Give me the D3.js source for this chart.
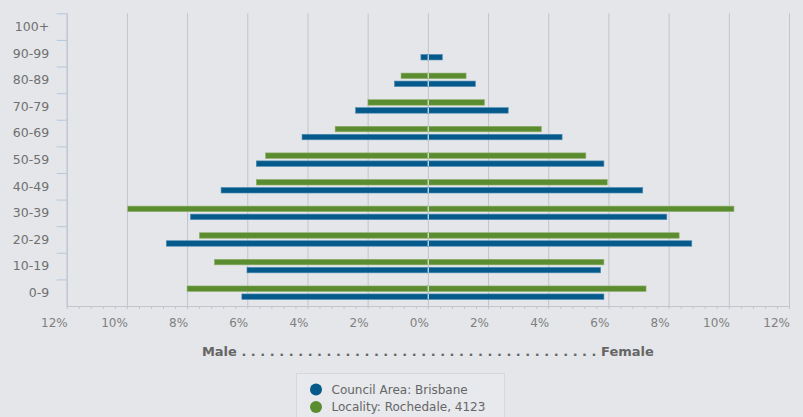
<!DOCTYPE html>
<html>
<head>
<meta charset="utf-8">
<script src="https://cdn.jsdelivr.net/npm/d3@7"></script>
<style>
  body { margin: 0; background: #e4e6ea; }
  svg { display: block; font-family: "DejaVu Sans", sans-serif; }
</style>
</head>
<body>
<div id="chart"></div>
<script>
// Age groups, top to bottom
const ageGroups = ["100+", "90-99", "80-89", "70-79", "60-69", "50-59", "40-49", "30-39", "20-29", "10-19", "0-9"];

// Share of population (%)
const councilMale     = [0, 0.23, 1.11, 2.40, 4.18, 5.70, 6.87, 7.89, 8.69, 6.01, 6.18];
const councilFemale   = [0, 0.48, 1.58, 2.67, 4.46, 5.85, 7.14, 7.94, 8.77, 5.74, 5.85];
const localityMale    = [0, 0, 0.89, 1.99, 3.08, 5.39, 5.70, 9.97, 7.59, 7.09, 8.00];
const localityFemale  = [0, 0, 1.27, 1.88, 3.77, 5.25, 5.96, 10.17, 8.35, 5.85, 7.25];

const seriesNames = ["Council Area: Brisbane", "Locality: Rochedale, 4123"];
const xTicks = [-12, -10, -8, -6, -4, -2, 0, 2, 4, 6, 8, 10, 12];

const width = 803, height = 417;
const margin = {top: 13.3, right: 14, bottom: 111, left: 66.7};
const innerW = width - margin.left - margin.right;
const innerH = height - margin.top - margin.bottom;

const svg = d3.select("#chart")
  .append("svg")
  .attr("width", width)
  .attr("height", height);

svg.append("rect").attr("width", width).attr("height", height).attr("fill", "#e4e6ea");

const g = svg.append("g").attr("transform", `translate(${margin.left},${margin.top})`);

// Scales
const x = d3.scaleLinear().domain([-12, 12]).range([0, innerW]);
const y = d3.scaleBand().domain(ageGroups).range([0, innerH]).padding(0);
const sub = d3.scaleBand()
  .domain(["locality", "council"])
  .range([y.bandwidth() / 2 - 6.75, y.bandwidth() / 2 + 6.75])
  .paddingInner(0.3125)
  .paddingOuter(0);

const colors = {council: "#055a8c", locality: "#5b8c2f"};

// Vertical gridlines
g.append("g").selectAll("line")
  .data(xTicks)
  .join("line")
  .attr("x1", d => x(d) + 0.5)
  .attr("x2", d => x(d) + 0.5)
  .attr("y1", 0)
  .attr("y2", innerH + 3)
  .attr("stroke", "#c3c5ca")
  .attr("stroke-width", 1);

// Minor ticks on the bottom axis
const minor = d3.range(-12, 12.001, 0.4).filter(v => Math.abs(v / 2 - Math.round(v / 2)) > 0.01);
g.append("g").selectAll("line")
  .data(minor)
  .join("line")
  .attr("x1", d => x(d) + 0.5)
  .attr("x2", d => x(d) + 0.5)
  .attr("y1", innerH)
  .attr("y2", innerH + 3)
  .attr("stroke", "#c3c5ca");

// Bottom axis line
g.append("line")
  .attr("x1", 0).attr("x2", innerW + 1)
  .attr("y1", innerH + 0.5).attr("y2", innerH + 0.5)
  .attr("stroke", "#c3c5ca");

// Left axis line and category ticks
g.append("line")
  .attr("x1", 0.5).attr("x2", 0.5)
  .attr("y1", 0).attr("y2", innerH)
  .attr("stroke", "#bcc6d2");
g.append("g").selectAll("line")
  .data(ageGroups)
  .join("line")
  .attr("x1", -10).attr("x2", 0)
  .attr("y1", d => y(d) + 0.5)
  .attr("y2", d => y(d) + 0.5)
  .attr("stroke", "#b4c8dc");

// Build bar data
const bars = [];
ageGroups.forEach((age, i) => {
  bars.push({age, key: "council", side: -1, v: councilMale[i]});
  bars.push({age, key: "council", side: 1, v: councilFemale[i]});
  bars.push({age, key: "locality", side: -1, v: localityMale[i]});
  bars.push({age, key: "locality", side: 1, v: localityFemale[i]});
});

g.append("g").selectAll("rect")
  .data(bars.filter(d => d.v > 0))
  .join("rect")
  .attr("x", d => d.side < 0 ? x(-d.v) : x(0))
  .attr("width", d => Math.abs(x(d.v) - x(0)))
  .attr("y", d => y(d.age) + sub(d.key))
  .attr("height", sub.bandwidth())
  .attr("fill", d => colors[d.key])
  .attr("stroke", d => d.key === "council" ? "#4f8cb3" : "#8db06a")
  .attr("stroke-width", 0.6);

// light centre line drawn over the bars
g.append("g").selectAll("rect")
  .data(bars.filter(d => d.side < 0 && d.v > 0))
  .join("rect")
  .attr("x", x(0))
  .attr("width", 1)
  .attr("y", d => y(d.age) + sub(d.key))
  .attr("height", sub.bandwidth())
  .attr("fill", "#dfe3e8");

// Y labels
g.append("g").selectAll("text")
  .data(ageGroups)
  .join("text")
  .attr("x", -17.5)
  .attr("y", d => y(d) + y.bandwidth() / 2)
  .attr("dy", "0.35em")
  .attr("text-anchor", "end")
  .attr("font-size", 12.5)
  .attr("fill", "#707070")
  .text(d => d);

// X tick labels
g.append("g").selectAll("text")
  .data(xTicks)
  .join("text")
  .attr("x", d => x(d) + 1)
  .attr("y", innerH + 21)
  .attr("text-anchor", "end")
  .attr("font-size", 12)
  .attr("fill", "#808080")
  .text(d => Math.abs(d) + "%");

// Axis title
const dots = d3.range(38).map(() => " .").join("");
g.append("text")
  .attr("x", x(0))
  .attr("y", innerH + 50)
  .attr("text-anchor", "middle")
  .attr("font-size", 13)
  .attr("font-weight", "bold")
  .attr("fill", "#666")
  .attr("xml:space", "preserve")
  .text("Male" + dots + " Female");

// Legend
const legend = svg.append("g").attr("transform", "translate(296.5,373.5)");
legend.append("rect")
  .attr("width", 208).attr("height", 60)
  .attr("fill", "#e7e9ec")
  .attr("stroke", "#d6d8dc");
const legendKeys = ["council", "locality"];
legendKeys.forEach((k, i) => {
  legend.append("circle")
    .attr("cx", 19.5).attr("cy", 16 + i * 17.5)
    .attr("r", 6)
    .attr("fill", colors[k]);
  legend.append("text")
    .attr("x", 35).attr("y", 16 + i * 17.5)
    .attr("dy", "0.35em")
    .attr("font-size", 12)
    .attr("fill", "#666")
    .text(seriesNames[i]);
});
</script>
</body>
</html>
